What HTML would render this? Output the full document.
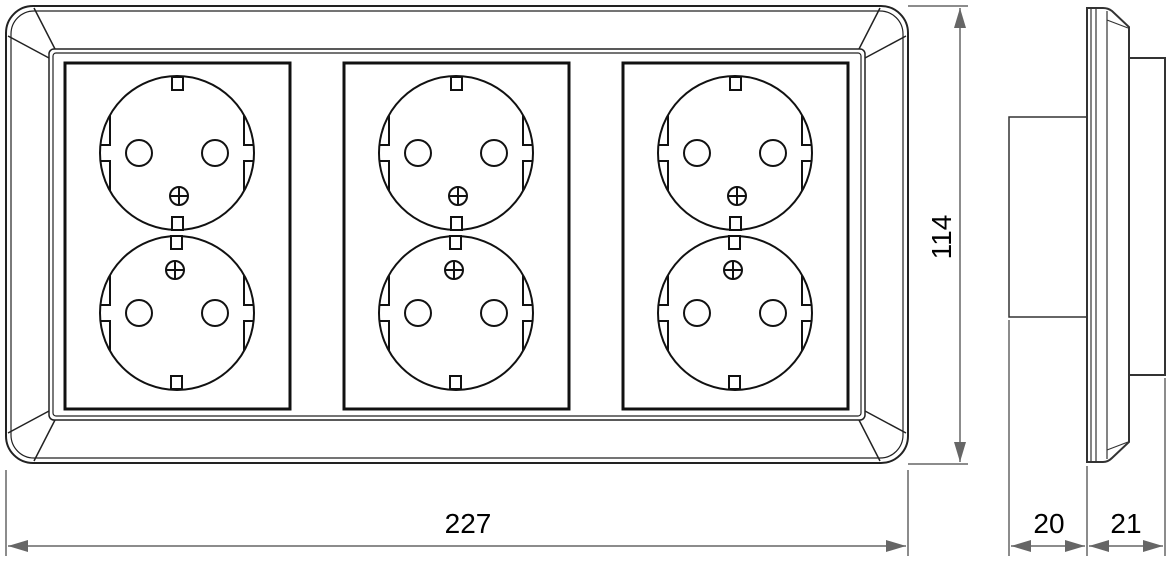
<!DOCTYPE html>
<html><head><style>
html,body{margin:0;padding:0;background:#fff;}
svg{display:block;}
text{font-family:"Liberation Sans",sans-serif;font-size:28px;fill:#000;}
</style></head><body>
<svg width="1173" height="568" viewBox="0 0 1173 568" xmlns="http://www.w3.org/2000/svg">
<defs>
<marker id="ar" markerWidth="20" markerHeight="12" refX="20" refY="6" orient="auto" markerUnits="userSpaceOnUse">
<path d="M0,0 L20,6 L0,12 z" fill="#666"/>
</marker>
<g id="sock" fill="none" stroke="#111" stroke-width="2">
<circle cx="0" cy="0" r="77"/>
<rect x="-5" y="-76" width="11" height="13" fill="#fff"/>
<rect x="-5" y="64" width="11" height="13" fill="#fff"/>
<path d="M-67,-38 L-67,-8 L-76,-8 M-76,8 L-67,8 L-67,38"/>
<path d="M67,-38 L67,-8 L76,-8 M76,8 L67,8 L67,38"/>
<circle cx="-38" cy="0" r="13"/>
<circle cx="38" cy="0" r="13"/>
<circle cx="2" cy="43" r="9"/>
<path d="M-7,43 L11,43 M2,34 L2,52"/>
</g>
<g id="panel">
<rect x="0" y="0" width="225" height="346" fill="none" stroke="#111" stroke-width="3"/>
<use href="#sock" x="112" y="90"/>
<use href="#sock" x="112" y="250" transform="rotate(180 112 250)"/>
</g>
</defs>
<g fill="none" stroke="#222" stroke-width="2">
<rect x="6" y="6" width="902" height="457" rx="27"/>
<rect x="11" y="11" width="892" height="447" rx="23" stroke-width="1.2"/>
<rect x="49" y="49" width="816" height="371" rx="5" stroke-width="1.5"/>
<rect x="53" y="53" width="808" height="363" rx="3" stroke-width="1.2"/>
<path d="M34,8 L55,49 M8,36 L49,58 M880,8 L859,49 M906,36 L865,58 M34,461 L55,420 M8,433 L49,411 M880,461 L859,420 M906,433 L865,411" stroke-width="1.5"/>
</g>
<use href="#panel" x="65" y="63"/>
<use href="#panel" x="344" y="63"/>
<use href="#panel" x="623" y="63"/>
<g fill="none" stroke="#333" stroke-width="2">
<rect x="1009" y="117" width="78" height="200" stroke-width="1.5"/>
<rect x="1129" y="58" width="36" height="317"/>
<path d="M1087,8 L1103,8 Q1108,8 1112,11 L1129,27 L1129,442 L1112,458 Q1108,462 1103,462 L1087,462 Z"/>
<path d="M1091,8 L1091,462 M1096,8 L1096,462 M1107,11 L1107,459 M1107,20 L1128,28 M1107,450 L1128,442" stroke-width="1.2"/>
</g>
<g stroke="#666" stroke-width="1.5" fill="none">
<path d="M908,6 L968,6 M908,464 L968,464"/>
<path d="M960,30 L960,8" marker-end="url(#ar)"/>
<path d="M960,30 L960,440"/>
<path d="M960,440 L960,462" marker-end="url(#ar)"/>
<path d="M6,470 L6,556 M908,470 L908,556"/>
<path d="M457,546 L8,546" marker-end="url(#ar)"/>
<path d="M457,546 L906,546" marker-end="url(#ar)"/>
<path d="M1009,320 L1009,556 M1087,466 L1087,556 M1165,378 L1165,556"/>
<path d="M1048,546 L1011,546" marker-end="url(#ar)"/>
<path d="M1048,546 L1085,546" marker-end="url(#ar)"/>
<path d="M1126,546 L1089,546" marker-end="url(#ar)"/>
<path d="M1126,546 L1163,546" marker-end="url(#ar)"/>
</g>
<text x="468" y="533" text-anchor="middle">227</text>
<text x="1049" y="533" text-anchor="middle">20</text>
<text x="1126" y="533" text-anchor="middle">21</text>
<text x="0" y="0" text-anchor="middle" transform="translate(951,237) rotate(-90)">114</text>
</svg>
</body></html>
